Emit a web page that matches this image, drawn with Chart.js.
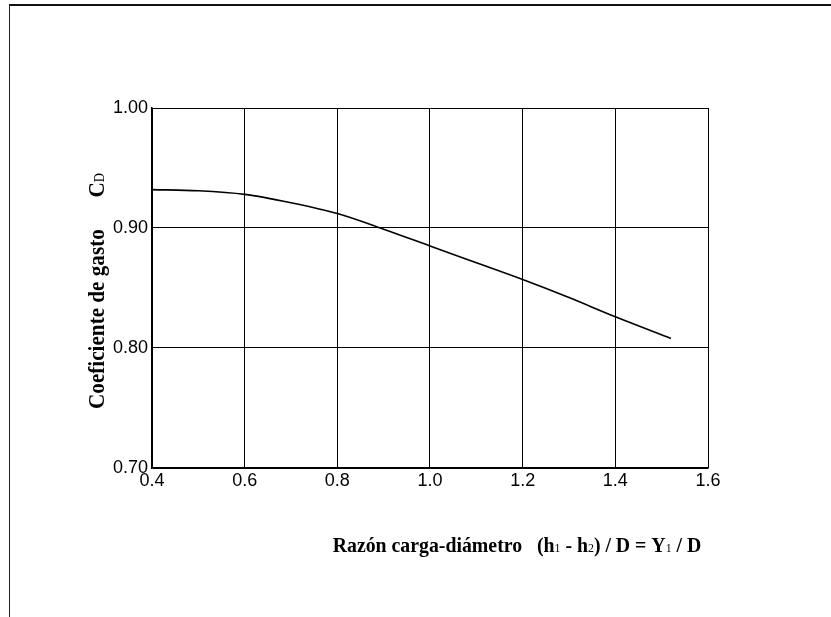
<!DOCTYPE html>
<html>
<head>
<meta charset="utf-8">
<script src="https://cdn.jsdelivr.net/npm/chart.js@4.4.1/dist/chart.umd.min.js"></script>
<style>
  html, body { margin: 0; padding: 0; background: #fff; }
  #wrap { position: relative; width: 831px; height: 617px; }
  #frame { position: absolute; left: 9px; top: 4px; right: 0; bottom: 0;
           border-top: 2px solid #111; border-left: 1px solid #222; }
  canvas { position: absolute; left: 0; top: 0; }
</style>
</head>
<body>
<div id="wrap">
  <div id="frame"></div>
  <canvas id="cd" width="831" height="617"></canvas>
</div>
<script>
// razón carga-diámetro (h1 - h2) / D
const ratio = [0.40, 0.50, 0.60, 0.70, 0.80, 0.90, 1.00, 1.10, 1.20, 1.30, 1.40, 1.52];
// coeficiente de gasto C_D
const coef = [0.932, 0.931, 0.928, 0.921, 0.912, 0.899, 0.885, 0.871, 0.857, 0.842, 0.826, 0.808];

const xTicks = [0.4, 0.6, 0.8, 1.0, 1.2, 1.4, 1.6];
const yTicks = [0.70, 0.80, 0.90, 1.00];

const tickFont = { family: '"Liberation Sans", Arial, sans-serif', size: 18 };
const serifBold = '"Liberation Serif", "Times New Roman", serif';

// writes a run of [text, isSub] pieces starting at x, baseline y
function drawRuns(ctx, runs, x, y, size) {
  runs.forEach(([txt, sub]) => {
    ctx.font = sub ? (size * 0.6) + 'px ' + serifBold : 'bold ' + size + 'px ' + serifBold;
    ctx.fillText(txt, x, y);
    x += ctx.measureText(txt).width;
  });
}
function runsWidth(ctx, runs, size) {
  let w = 0;
  runs.forEach(([txt, sub]) => {
    ctx.font = sub ? (size * 0.6) + 'px ' + serifBold : 'bold ' + size + 'px ' + serifBold;
    w += ctx.measureText(txt).width;
  });
  return w;
}

// titles are set in a slightly condensed bold serif
const squeeze = 0.9;
const axisTitles = {
  id: 'axisTitles',
  afterDraw(chart) {
    const ctx = chart.ctx;
    ctx.fillStyle = '#000';
    ctx.textBaseline = 'alphabetic';
    ctx.textAlign = 'left';

    const xRuns = [['Razón carga-diámetro   (h', false], ['1', true], [' - h', false], ['2', true],
                   [') / D = Y', false], ['1', true], [' / D', false]];
    const xs = 22;
    const xw = runsWidth(ctx, xRuns, xs);
    ctx.save();
    ctx.translate(517, 552);
    ctx.scale(squeeze, 1);
    drawRuns(ctx, xRuns, -xw / 2, 0, xs);
    ctx.restore();

    const yRuns = [['Coeficiente de gasto      C', false], ['D', true]];
    const ys = 23.5;
    const yw = runsWidth(ctx, yRuns, ys);
    ctx.save();
    ctx.translate(104, 291);
    ctx.rotate(-Math.PI / 2);
    ctx.scale(squeeze, 1);
    drawRuns(ctx, yRuns, -yw / 2, 0, ys);
    ctx.restore();
  }
};

new Chart(document.getElementById('cd').getContext('2d'), {
  type: 'line',
  data: {
    datasets: [{
      data: ratio.map((r, i) => ({ x: r, y: coef[i] })),
      borderColor: '#000',
      borderWidth: 1.6,
      pointRadius: 0,
      cubicInterpolationMode: 'monotone',
      fill: false
    }]
  },
  options: {
    responsive: false,
    animation: false,
    layout: { padding: { left: 0, top: 108, right: 123, bottom: 0 } },
    plugins: { legend: { display: false }, tooltip: { enabled: false } },
    scales: {
      x: {
        type: 'linear',
        min: 0.4,
        max: 1.6,
        afterBuildTicks: s => { s.ticks = xTicks.map(v => ({ value: v })); },
        afterFit: s => { s.height = 149; },
        grid: { color: '#000', lineWidth: 1, drawTicks: false },
        border: { color: '#000', width: 1.5 },
        ticks: { color: '#000', font: tickFont, padding: 2, maxRotation: 0,
                 callback: v => v.toFixed(1) }
      },
      y: {
        min: 0.7,
        max: 1.0,
        afterBuildTicks: s => { s.ticks = yTicks.map(v => ({ value: v })); },
        afterFit: s => { s.width = 152; },
        grid: { color: '#000', lineWidth: 1, drawTicks: false },
        border: { color: '#000', width: 1.5 },
        ticks: { color: '#000', font: tickFont, padding: 4,
                 callback: v => v.toFixed(2) }
      }
    }
  },
  plugins: [axisTitles]
});
</script>
</body>
</html>
